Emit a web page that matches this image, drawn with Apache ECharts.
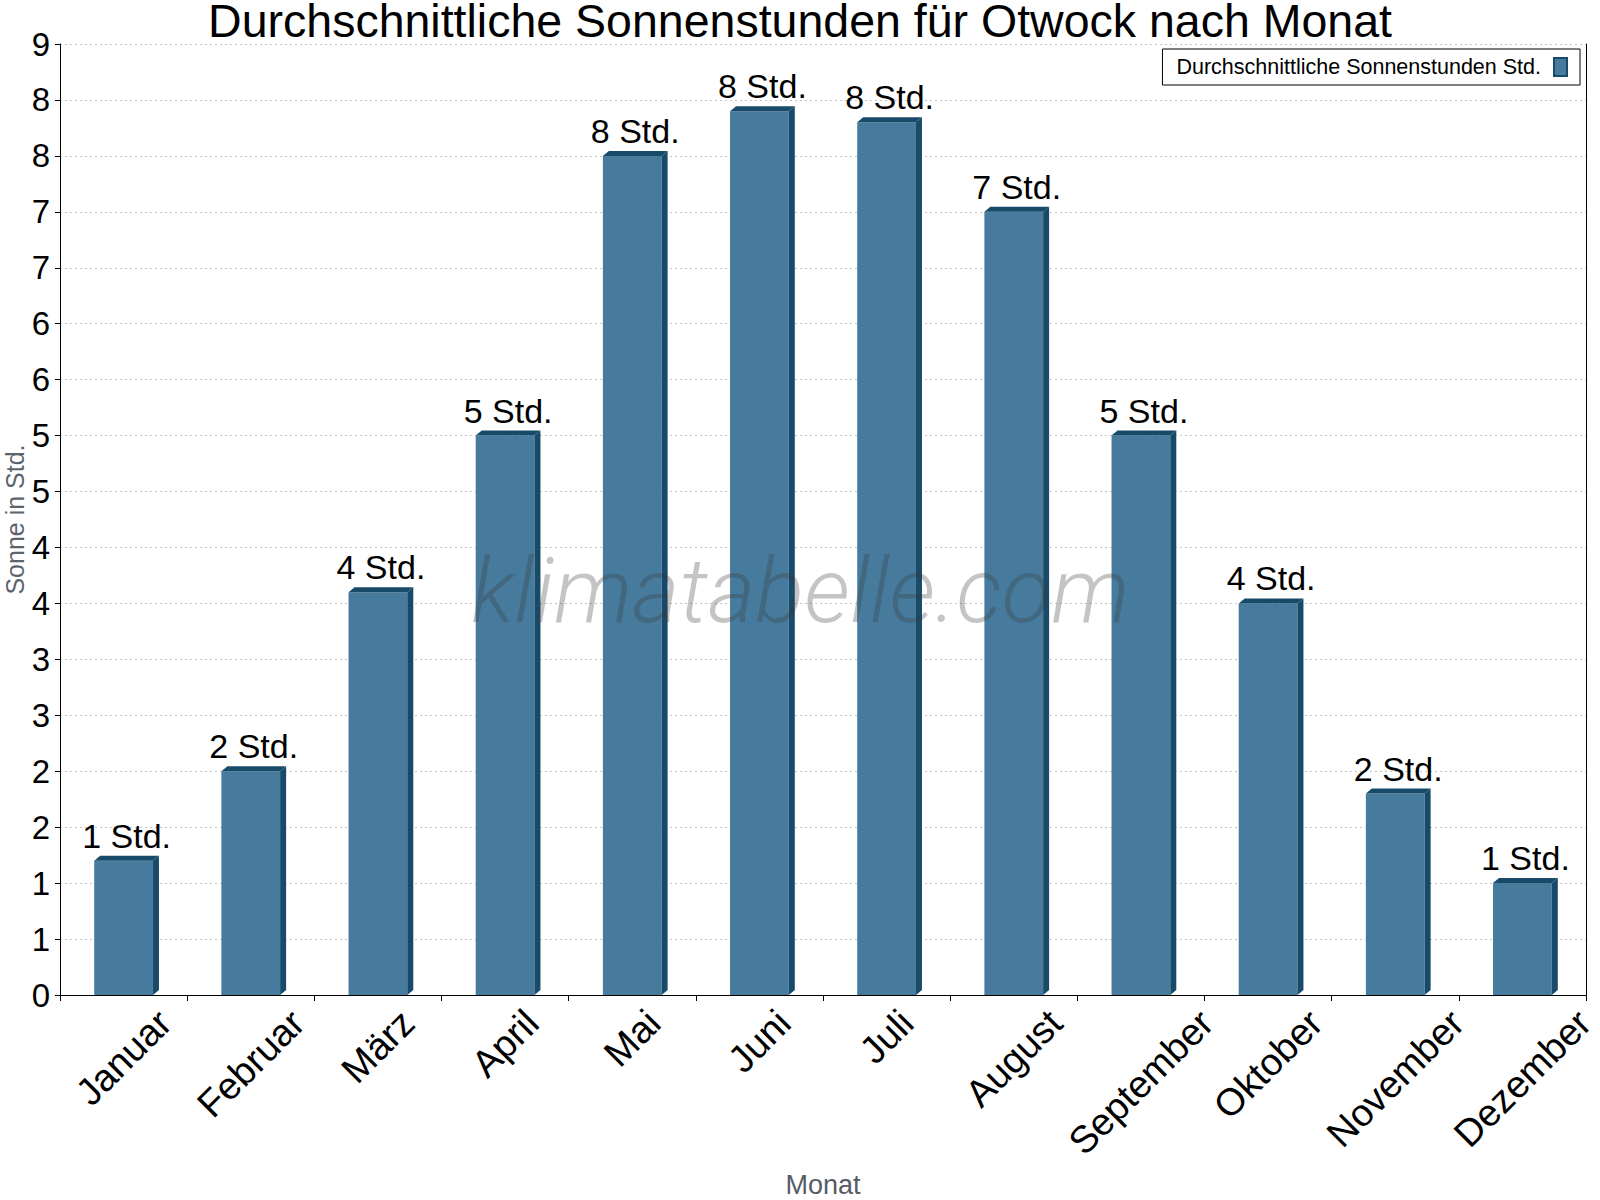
<!DOCTYPE html>
<html>
<head>
<meta charset="utf-8">
<script src="https://cdn.jsdelivr.net/npm/echarts@6/dist/echarts.min.js"></script>
<style>
  html, body { margin: 0; padding: 0; background: #fff; }
  #main { width: 1600px; height: 1200px; }
</style>
</head>
<body>
<div id="main"></div>
<script>
// months shown on the x axis
const months = ['Januar', 'Februar', 'März', 'April', 'Mai', 'Juni', 'Juli', 'August', 'September', 'Oktober', 'November', 'Dezember'];
// average sunshine hours per day
const sunHours = [1.2, 2.0, 3.6, 5.0, 7.5, 7.9, 7.8, 7.0, 5.0, 3.5, 1.8, 1.0];

const FONT = '"Liberation Sans", Arial, Helvetica, sans-serif';
const FRONT = '#467b9d';
const DARK = '#184a6a';
const DX = 6, DY = 5;
const X_LABEL_SIZE = 38;

const chart = echarts.init(document.getElementById('main'), null, { renderer: 'svg' });

// for centering the rotated month labels under each category
const measureCtx = document.createElement('canvas').getContext('2d');
measureCtx.font = X_LABEL_SIZE + 'px ' + FONT;

const barData = sunHours.map((v, i) => [i, v]);
const labelData = months.map((m, i) => [i, 0]);

const renderBar = (params, api) => {
    const v = api.value(1);
    const top = api.coord([api.value(0), v]);
    const base = api.coord([api.value(0), 0]);
    const w = api.size([1, 0])[0] * 0.462;
    const x0 = top[0] - w / 2;
    const x1 = top[0] + w / 2;
    return {
        type: 'group',
        children: [
            { type: 'rect', shape: { x: x0, y: top[1], width: w, height: base[1] - top[1] }, style: { fill: FRONT } },
            { type: 'polygon', shape: { points: [[x1, top[1]], [x1 + DX, top[1] - DY], [x1 + DX, base[1] - DY], [x1, base[1]]] }, style: { fill: DARK } },
            { type: 'polygon', shape: { points: [[x0, top[1]], [x0 + DX, top[1] - DY], [x1 + DX, top[1] - DY], [x1, top[1]]] }, style: { fill: DARK } },
            {
                type: 'text',
                x: top[0] + DX / 2,
                y: top[1] - DY - 3,
                style: {
                    text: Math.round(v) + ' Std.',
                    font: '34px ' + FONT,
                    fill: '#000',
                    align: 'center',
                    verticalAlign: 'bottom'
                }
            }
        ]
    };
};

const renderMonthLabel = (params, api) => {
    const name = months[params.dataIndex];
    const p = api.coord([api.value(0), 0]);
    const len = measureCtx.measureText(name).width;
    const boxH = (len + X_LABEL_SIZE * 0.93) * Math.SQRT1_2;
    return {
        type: 'text',
        x: p[0],
        y: p[1] + 9 + boxH / 2,
        rotation: Math.PI / 4,
        style: {
            text: name,
            font: X_LABEL_SIZE + 'px ' + FONT,
            fill: '#000',
            align: 'center',
            verticalAlign: 'middle'
        }
    };
};

chart.setOption({
    animation: false,
    title: {
        text: 'Durchschnittliche Sonnenstunden für Otwock nach Monat',
        left: 'center',
        top: -3,
        padding: 0,
        textStyle: { fontFamily: FONT, fontSize: 46.5, fontWeight: 'normal', color: '#000' }
    },
    legend: {
        data: ['Durchschnittliche Sonnenstunden Std.'],
        right: 20,
        top: 49,
        align: 'right',
        orient: 'horizontal',
        icon: 'rect',
        itemWidth: 13,
        itemHeight: 18,
        borderColor: '#000',
        borderWidth: 1,
        borderRadius: 0,
        padding: [7, 12, 7, 14],
        textStyle: { fontFamily: FONT, fontSize: 21.5, color: '#000', padding: [0, 8, 0, 0] }
    },
    grid: { left: 60, right: 14, top: 44, bottom: 205, outerBoundsMode: 'none' },
    xAxis: {
        type: 'category',
        data: months,
        name: 'Monat',
        nameLocation: 'middle',
        nameGap: 176,
        nameTextStyle: { fontFamily: FONT, fontSize: 27, color: '#555c66' },
        axisLine: { lineStyle: { color: '#000', width: 1 } },
        axisTick: { show: true, length: 6, lineStyle: { color: '#000' } },
        axisLabel: { show: false },
        splitLine: { show: false }
    },
    yAxis: [
        {
            type: 'value',
            min: 0,
            max: 8.5,
            interval: 0.5,
            name: 'Sonne in Std.',
            nameLocation: 'middle',
            nameGap: 33,
            nameMoveOverlap: false,
            nameTextStyle: { fontFamily: FONT, fontSize: 25, color: '#5b636d' },
            axisLine: { show: true, lineStyle: { color: '#000', width: 1 } },
            axisTick: { show: true, length: 5, lineStyle: { color: '#000' } },
            axisLabel: {
                fontFamily: FONT,
                fontSize: 33,
                color: '#000',
                margin: 10,
                formatter: (v) => Math.round(v)
            },
            splitLine: { show: true, lineStyle: { color: '#c4c4c4', type: [2, 3], width: 1 } }
        },
        {
            type: 'value',
            position: 'right',
            min: 0,
            max: 8.5,
            interval: 0.5,
            axisLine: { show: true, lineStyle: { color: '#000', width: 1 } },
            axisTick: { show: false },
            axisLabel: { show: false },
            splitLine: { show: false }
        }
    ],
    graphic: [
        {
            type: 'text',
            left: 471,
            top: 545,
            z: 100,
            silent: true,
            style: {
                text: 'klimatabelle.com',
                font: 'italic 300 91px Roboto, "Liberation Sans", sans-serif',
                fill: 'rgba(60,60,60,0.3)'
            }
        }
    ],
    series: [
        {
            name: 'Durchschnittliche Sonnenstunden Std.',
            type: 'custom',
            renderItem: renderBar,
            encode: { x: 0, y: 1 },
            itemStyle: { color: FRONT, borderColor: DARK, borderWidth: 1 },
            data: barData
        },
        {
            name: 'Monatsnamen',
            type: 'custom',
            silent: true,
            renderItem: renderMonthLabel,
            encode: { x: 0, y: 1 },
            clip: false,
            data: labelData
        }
    ]
});
</script>
</body>
</html>
